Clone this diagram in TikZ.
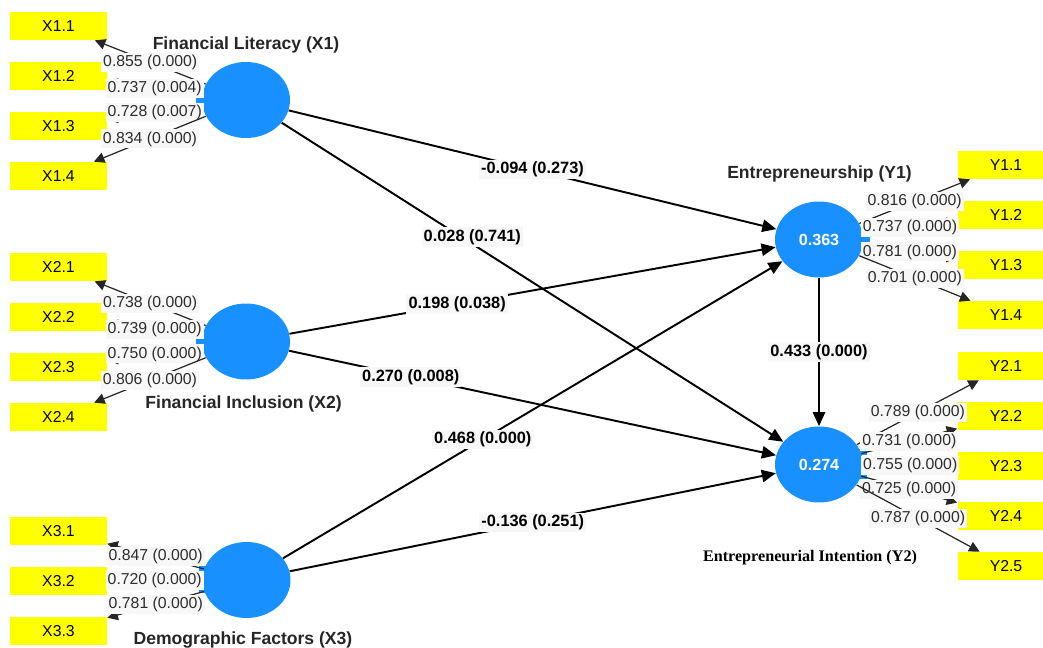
\documentclass[tikz,border=0pt]{standalone}
\usepackage{fontspec}
\setmainfont{Liberation Serif}
\setsansfont{Liberation Sans}
\usetikzlibrary{shapes.geometric,arrows.meta}
\definecolor{latblue}{RGB}{24,144,255}
\definecolor{indyellow}{RGB}{255,255,0}
\definecolor{lblgray}{RGB}{247,247,247}
\definecolor{lbltext}{RGB}{45,45,45}
\tikzset{
  latent/.style={ellipse, fill=latblue, inner sep=0pt, minimum width=1.76cm, minimum height=1.52cm,
    text=white, font=\sffamily\bfseries\fontsize{9.2}{10}\selectfont},
  indicator/.style={rectangle, fill=indyellow, inner sep=0pt, minimum width=1.94cm, minimum height=0.56cm,
    font=\sffamily\fontsize{9}{10}\selectfont},
  lvname/.style={anchor=base, text=black!85, font=\sffamily\bfseries\fontsize{10}{12}\selectfont},
  loading/.style={fill=lblgray, text=lbltext, inner sep=1.2pt, font=\sffamily\fontsize{9}{10}\selectfont},
  coef/.style={fill=lblgray, inner sep=1.2pt, font=\sffamily\bfseries\fontsize{9.3}{10}\selectfont},
  loadpath/.style={-{Triangle[length=6pt,width=6pt]}, line width=0.7pt, draw=black!85},
  structpath/.style={-{Triangle[length=8pt,width=7pt]}, line width=1.1pt}
}

\begin{document}
\begin{tikzpicture}[x=0.02cm, y=-0.02cm]
    \clip (0,0) rectangle (1043,648);
    % latent variables
        \node (X1) at (246,100) [latent] {};
        \node (X2) at (246,341.5) [latent] {};
        \node (X3) at (246.5,580) [latent] {};
        \node (Y1) at (819,239.5) [latent] {0.363};
        \node (Y2) at (819,464.5) [latent] {0.274};
    % little tabs on the circles
        \fill[latblue] (196,97) rectangle (204,104);
        \fill[latblue] (196,338) rectangle (204,345);
        \fill[latblue] (199,566) rectangle (206,572);
        \fill[latblue] (199,587) rectangle (206,593);
        \fill[latblue] (860,236) rectangle (870,242);
        \fill[latblue] (858,449) rectangle (867,455);
        \fill[latblue] (858,473) rectangle (867,479);

    % indicators
        \node (X11) at (58.5,26) [indicator] {X1.1};
        \node (X12) at (58.5,76) [indicator] {X1.2};
        \node (X13) at (58.5,126) [indicator] {X1.3};
        \node (X14) at (58.5,176) [indicator] {X1.4};
        \node (X21) at (58.5,267) [indicator] {X2.1};
        \node (X22) at (58.5,317) [indicator] {X2.2};
        \node (X23) at (58.5,367) [indicator] {X2.3};
        \node (X24) at (58.5,417) [indicator] {X2.4};
        \node (X31) at (58.5,531) [indicator] {X3.1};
        \node (X32) at (58.5,581) [indicator] {X3.2};
        \node (X33) at (58.5,631) [indicator] {X3.3};
        \node (Y11) at (1006,165) [indicator] {Y1.1};
        \node (Y12) at (1006,215) [indicator] {Y1.2};
        \node (Y13) at (1006,265) [indicator] {Y1.3};
        \node (Y14) at (1006,315) [indicator] {Y1.4};
        \node (Y21) at (1006,366) [indicator] {Y2.1};
        \node (Y22) at (1006,416) [indicator] {Y2.2};
        \node (Y23) at (1006,466) [indicator] {Y2.3};
        \node (Y24) at (1006,516) [indicator] {Y2.4};
        \node (Y25) at (1006,566) [indicator] {Y2.5};

    % outer loadings
        \draw[loadpath] (X1) -- node[loading] {0.855 (0.000)} (X11);
        \draw[loadpath] (X1) -- node[loading] {0.737 (0.004)} (X12);
        \draw[loadpath] (X1) -- node[loading] {0.728 (0.007)} (X13);
        \draw[loadpath] (X1) -- node[loading] {0.834 (0.000)} (X14);
        \draw[loadpath] (X2) -- node[loading] {0.738 (0.000)} (X21);
        \draw[loadpath] (X2) -- node[loading] {0.739 (0.000)} (X22);
        \draw[loadpath] (X2) -- node[loading] {0.750 (0.000)} (X23);
        \draw[loadpath] (X2) -- node[loading] {0.806 (0.000)} (X24);
        \draw[loadpath] (X3) -- node[loading] {0.847 (0.000)} (X31);
        \draw[loadpath] (X3) -- node[loading] {0.720 (0.000)} (X32);
        \draw[loadpath] (X3) -- node[loading] {0.781 (0.000)} (X33);
        \draw[loadpath] (Y1) -- node[loading] {0.816 (0.000)} (Y11);
        \draw[loadpath] (Y1) -- node[loading] {0.737 (0.000)} (Y12);
        \draw[loadpath] (Y1) -- node[loading] {0.781 (0.000)} (Y13);
        \draw[loadpath] (Y1) -- node[loading] {0.701 (0.000)} (Y14);
        \draw[loadpath] (Y2) -- node[loading] {0.789 (0.000)} (Y21);
        \draw[loadpath] (Y2) -- node[loading] {0.731 (0.000)} (Y22);
        \draw[loadpath] (Y2) -- node[loading] {0.755 (0.000)} (Y23);
        \draw[loadpath] (Y2) -- node[loading] {0.725 (0.000)} (Y24);
        \draw[loadpath] (Y2) -- node[loading] {0.787 (0.000)} (Y25);

    % inner model
        \draw[structpath] (X1) -- node[coef, pos=.5] {-0.094 (0.273)} (Y1);
        \draw[structpath] (X1) -- node[coef, pos=.38, yshift=.14cm] {0.028 (0.741)} (Y2);
        \draw[structpath] (X2) -- node[coef, pos=.345] {0.198 (0.038)} (Y1);
        \draw[structpath] (X2) -- node[coef, pos=.25] {0.270 (0.008)} (Y2);
        \draw[structpath] (X3) -- node[coef, pos=.4] {0.468 (0.000)} (Y1);
        \draw[structpath] (X3) -- node[coef, pos=.5] {-0.136 (0.251)} (Y2);
        \draw[structpath] (Y1) -- node[coef, pos=.5] {0.433 (0.000)} (Y2);

    % names
        \node (nX1) at (246,49.5) [lvname] {Financial Literacy (X1)};
        \node (nX2) at (243.5,408.3) [lvname] {Financial Inclusion (X2)};
        \node (nX3) at (243,644) [lvname] {Demographic Factors (X3)};
        \node (nY1) at (819.5,179) [lvname] {Entrepreneurship (Y1)};
        \node (nY2) at (810,561) [lvname, font=\rmfamily\bfseries\fontsize{9.2}{11}\selectfont, text=black] {Entrepreneurial Intention (Y2)};
  \end{tikzpicture}
\end{document}
